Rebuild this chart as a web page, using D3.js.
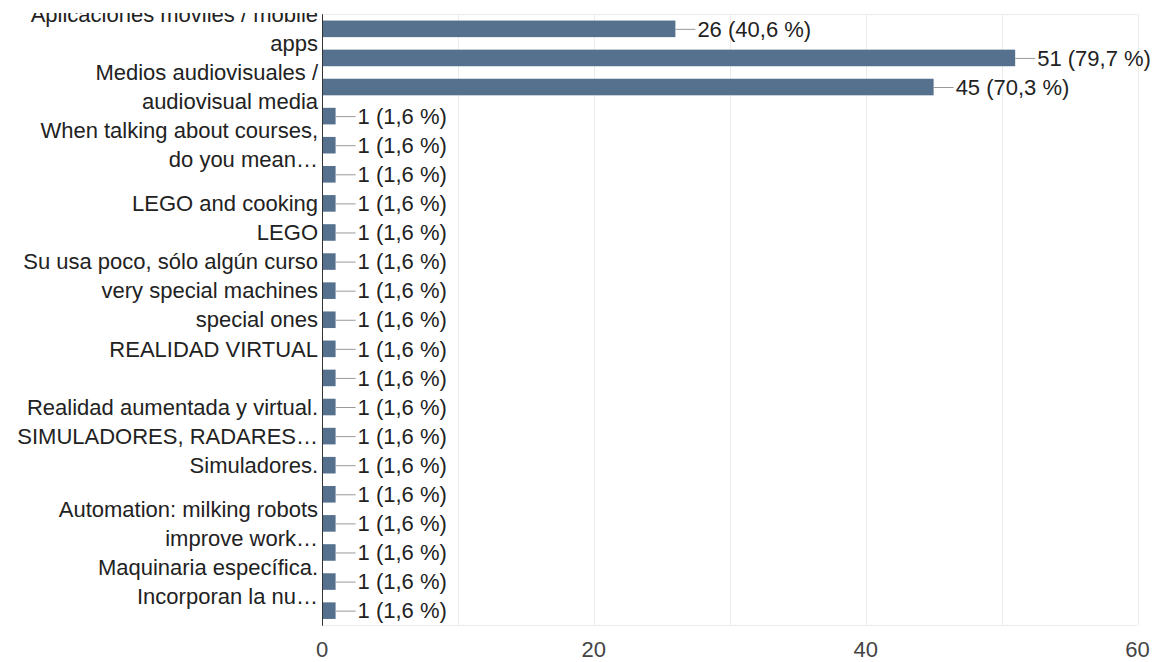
<!DOCTYPE html>
<meta charset="utf-8">
<style>
body {
  margin: 0;
  background: #fff;
}
svg {
  display: block;
  font-family: "Liberation Sans", Arial, sans-serif;
}
</style>
<body>
<script src="https://cdn.jsdelivr.net/npm/d3@7/dist/d3.min.js"></script>
<script>

// category labels, as drawn (wrapped lines, hidden ones left empty)
var labels = [
  ["Aplicaciones móviles / mobile", "apps"],
  [],
  ["Medios audiovisuales /", "audiovisual media"],
  [],
  ["When talking about courses,", "do you mean…"],
  [],
  ["LEGO and cooking"],
  ["LEGO"],
  ["Su usa poco, sólo algún curso"],
  ["very special machines"],
  ["special ones"],
  ["REALIDAD VIRTUAL"],
  [],
  ["Realidad aumentada y virtual."],
  ["SIMULADORES, RADARES…"],
  ["Simuladores."],
  [],
  ["Automation: milking robots", "improve work…"],
  [],
  ["Maquinaria específica.", "Incorporan la nu…"],
  []
];

var values = [26, 51, 45, 1, 1, 1, 1, 1, 1, 1, 1, 1, 1, 1, 1, 1, 1, 1, 1, 1, 1];

var total = 64;

var xTicks = [0, 20, 40, 60];
var gridTicks = [0, 10, 20, 30, 40, 50, 60];

var width = 1159,
    height = 662;

var plotLeft = 322, plotRight = 1137.5, plotTop = 14.3, plotBottom = 625.2;

var svg = d3.select("body").append("svg")
    .attr("width", width)
    .attr("height", height);

var x = d3.scaleLinear()
    .domain([0, 60])
    .range([plotLeft, plotRight]);

var y = d3.scaleBand()
    .domain(d3.range(values.length))
    .range([plotTop, plotBottom])
    .paddingInner(0.43)
    .paddingOuter(0.215);

var step = y.step();

// grid
svg.append("g").selectAll("line")
    .data(gridTicks.slice(1))
  .enter().append("line")
    .attr("x1", function(d) { return Math.round(x(d)) + 0.5; })
    .attr("x2", function(d) { return Math.round(x(d)) + 0.5; })
    .attr("y1", plotTop)
    .attr("y2", plotBottom)
    .style("stroke", "#ebebeb");

svg.append("line")
    .attr("x1", plotLeft).attr("x2", plotRight)
    .attr("y1", Math.round(plotTop) + 0.5).attr("y2", Math.round(plotTop) + 0.5)
    .style("stroke", "#ebebeb");

svg.append("line")
    .attr("x1", plotLeft).attr("x2", plotRight)
    .attr("y1", Math.round(plotBottom) + 0.5).attr("y2", Math.round(plotBottom) + 0.5)
    .style("stroke", "#ebebeb");

// bars
svg.append("g").selectAll("rect")
    .data(values)
  .enter().append("rect")
    .attr("x", x(0))
    .attr("y", function(d, i) { return y(i); })
    .attr("width", function(d) { return x(d) - x(0); })
    .attr("height", y.bandwidth())
    .style("fill", "#56718d");

// connectors + value labels
var ann = svg.append("g").selectAll("g")
    .data(values)
  .enter().append("g")
    .attr("transform", function(d, i) { return "translate(" + x(d) + "," + (y(i) + y.bandwidth() / 2) + ")"; });

ann.append("line")
    .attr("x1", 0)
    .attr("x2", 20)
    .attr("y1", 0.5)
    .attr("y2", 0.5)
    .style("stroke", "#999");

ann.append("text")
    .attr("x", 22)
    .attr("dy", "0.35em")
    .style("font-size", "22px")
    .style("fill", "#222")
    .text(function(d) {
      return d + " (" + (d / total * 100).toFixed(1).replace(".", ",") + " %)";
    });

// axis line at zero
svg.append("line")
    .attr("x1", Math.round(x(0)) + 0.5)
    .attr("x2", Math.round(x(0)) + 0.5)
    .attr("y1", plotTop)
    .attr("y2", plotBottom + 0.5)
    .style("stroke", "#333");

// category labels, clipped to the chart top
svg.append("clipPath")
    .attr("id", "lblclip")
  .append("rect")
    .attr("x", 0).attr("y", 13)
    .attr("width", plotLeft).attr("height", height);

var lbl = svg.append("g")
    .attr("clip-path", "url(#lblclip)")
  .selectAll("g")
    .data(labels)
  .enter().append("g")
    .attr("transform", function(d, i) { return "translate(318," + (y(i) + y.bandwidth() / 2) + ")"; });

lbl.selectAll("text")
    .data(function(d) { return d.map(function(t, j) { return {t: t, j: j, n: d.length}; }); })
  .enter().append("text")
    .attr("text-anchor", "end")
    .attr("y", function(d) { return (d.j - (d.n - 1) / 2) * step; })
    .attr("dy", "0.35em")
    .style("font-size", "22px")
    .style("fill", "#222")
    .text(function(d) { return d.t; });

// x tick labels
svg.append("g").selectAll("text")
    .data(xTicks)
  .enter().append("text")
    .attr("x", function(d) { return x(d); })
    .attr("y", 649)
    .attr("dy", "0.35em")
    .attr("text-anchor", "middle")
    .style("font-size", "22px")
    .style("fill", "#444")
    .text(function(d) { return d; });

</script>
